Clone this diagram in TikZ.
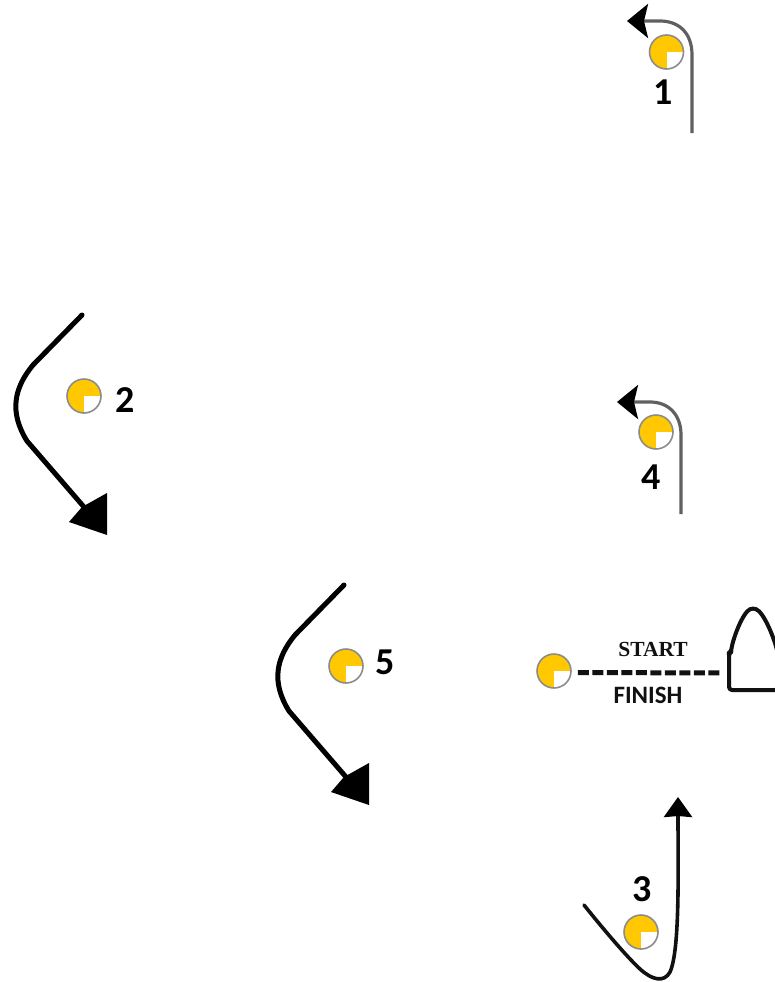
\documentclass[tikz,border=0pt]{standalone}
\usepackage{fontspec}
\setmainfont{Carlito}
\newfontfamily\serifbold{Liberation Serif}
\usetikzlibrary{arrows.meta}
\definecolor{markyellow}{HTML}{FFC800}
\definecolor{markedge}{HTML}{8C8C8C}
\definecolor{ink}{HTML}{111111}
\definecolor{greyline}{HTML}{606060}
\tikzset{
  buoy/.style={circle,draw=markedge,line width=1.6pt,fill=markyellow,minimum size=34pt,inner sep=0pt,
    path picture={\fill[white] (path picture bounding box.center) rectangle (path picture bounding box.south east);}},
  num/.style={font=\fontsize{38}{38}\selectfont\bfseries,text=black,inner sep=0pt},
  thinroute/.style={draw=greyline,line width=3.2pt,-{Stealth[inset=4pt,length=21pt,width=34pt,color=black]}},
  thickroute/.style={draw=black,line width=5pt,line cap=round,line join=round},
  midroute/.style={draw=ink,line width=3.6pt,line cap=round,-{Stealth[inset=1pt,length=20pt,width=28pt,color=black]}},
  head/.style={fill=black,draw=none},
  startlabel/.style={font=\fontsize{21.5}{21.5}\selectfont\serifbold\bfseries,text=ink,inner sep=0pt},
  finishlabel/.style={font=\fontsize{25}{25}\selectfont\bfseries,text=ink,inner sep=0pt},
  hull/.style={draw=ink,line width=4pt,line join=round,fill=white},
  startline/.style={draw=ink,line width=5pt,dash pattern=on 11pt off 3.5pt}
}
\begin{document}
\begin{tikzpicture}[x=1pt,y=-1pt]
\useasboundingbox (0,0) rectangle (775,982);
% buoys
\node[buoy] (m1) at (666.5,52) {};
\node[buoy] (m4) at (656,432) {};
\node[buoy] (m2) at (84,396) {};
\node[buoy] (m5) at (346,666) {};
\node[buoy] (m0) at (554,671) {};
\node[buoy] (m3) at (641,932) {};
% numbers
\node[num] (n1) at (663,92) {1};
\node[num] (n2) at (125,400) {2};
\node[num] (n3) at (642,889) {3};
\node[num] (n4) at (651,477) {4};
\node[num] (n5) at (385,662) {5};
% route 1
\coordinate (a1) at (692,133);
\coordinate (b1) at (627,21);
\draw[thinroute] (a1) -- (692,55) .. controls (692,32) and (678,21) .. (660,21) -- (b1);
% route 4
\coordinate (a4) at (681,514);
\coordinate (b4) at (617,402);
\draw[thinroute] (a4) -- (681,435) .. controls (681,414) and (668,402) .. (650,402) -- (b4);
% route 2
\coordinate (a2) at (82,315);
\coordinate (b2) at (84,507);
\draw[thickroute] (a2) -- (33,365)
  .. controls (14,388) and (9,412) .. (27,441) -- (b2);
\fill[head] (107,493) -- (107,535) -- (69,522) -- (82,507) -- cycle;
% route 5
\coordinate (a5) at (344,585);
\coordinate (b5) at (346,777);
\draw[thickroute] (a5) -- (295,635)
  .. controls (276,658) and (271,682) .. (289,711) -- (b5);
\fill[head] (369,763) -- (369,805) -- (331,792) -- (344,777) -- cycle;
% route 3
\coordinate (a3) at (584,905);
\coordinate (b3) at (678,797);
\draw[midroute] (a3) .. controls (600,925) and (625,955) .. (640,969)
  .. controls (652,980) and (664,983) .. (670,972)
  .. controls (680,950) and (678,870) .. (b3);
% start line
\begin{scope}
\clip (700,590) rectangle (775,710);
\draw[hull,rounded corners=3pt] (729,690) -- (729,653) -- (731,652) .. controls (733,638) and (743,612) .. (753,608)
  .. controls (764,612) and (775,640) .. (778,655) -- (778,690) -- cycle;
\end{scope}
\coordinate (boat) at (722,673);
\draw[startline] (m0.east) ++(6,1.5) -- (boat);
\node[startlabel] (st) at (653,649) {START};
\node[finishlabel] (fi) at (648,695) {FINISH};
\end{tikzpicture}
\end{document}
